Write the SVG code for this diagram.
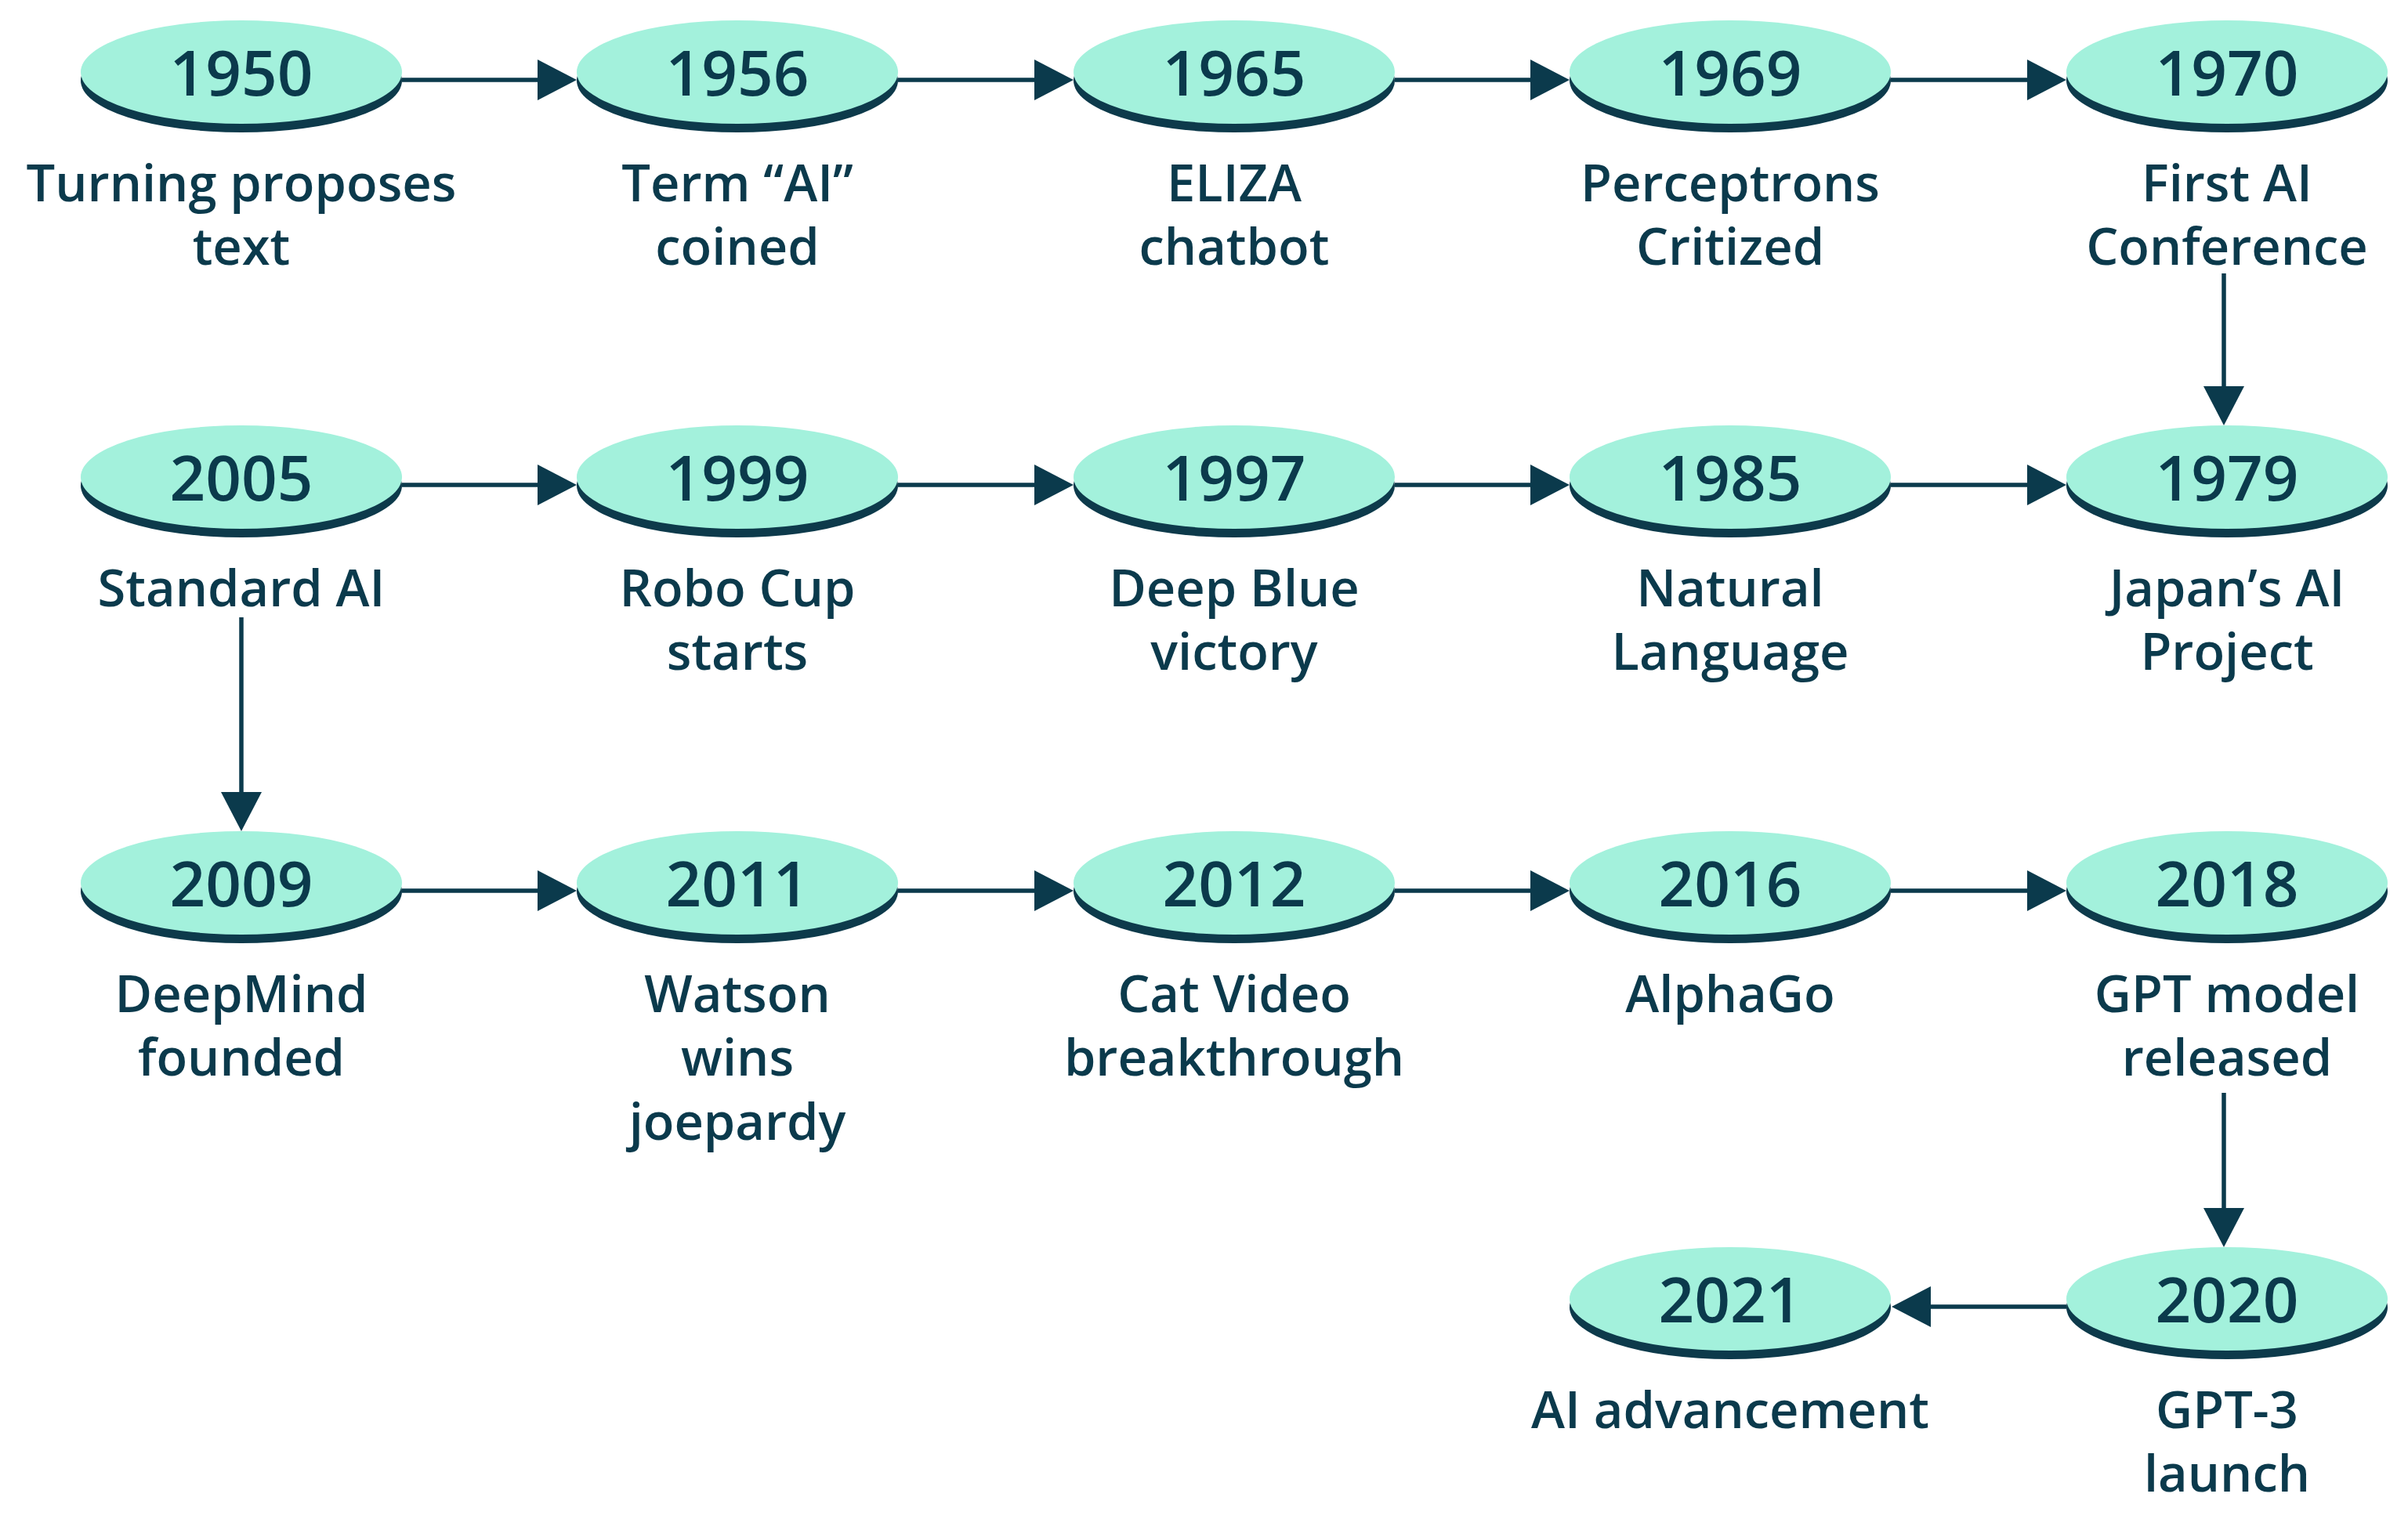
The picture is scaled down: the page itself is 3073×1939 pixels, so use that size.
<svg xmlns="http://www.w3.org/2000/svg" width="3073" height="1939" viewBox="0 0 3073 1939">
<style>
.bg{fill:#ffffff}
.sh{fill:#0d3a4b}
.el{fill:#a3f1dc}
.yr{font-family:"Open Sans","DejaVu Sans",sans-serif;font-size:80px;font-weight:600;fill:#0b3a4c;text-anchor:middle}
.lb{font-family:"Open Sans","DejaVu Sans",sans-serif;font-size:65px;font-weight:600;fill:#0b3a4c;text-anchor:middle}
.cn{stroke:#0b3a4c;stroke-width:5.5;fill:none;marker-end:url(#ah)}
</style>
<defs>
<marker id="ah" viewBox="0 0 50 52" refX="40" refY="26" markerWidth="50" markerHeight="52" markerUnits="userSpaceOnUse" orient="auto">
<path d="M0,0 L50,26 L0,52 z" fill="#0b3a4c"/>
</marker>
</defs>
<rect class="bg" x="0" y="0" width="3073" height="1939"/>
<g id="connectors">
<line class="cn" x1="513" y1="102" x2="726" y2="102"/>
<line class="cn" x1="1146" y1="102" x2="1360" y2="102"/>
<line class="cn" x1="1780" y1="102" x2="1993" y2="102"/>
<line class="cn" x1="2413" y1="102" x2="2627" y2="102"/>
<line class="cn" x1="2838" y1="349" x2="2838" y2="533"/>
<line class="cn" x1="513" y1="619" x2="726" y2="619"/>
<line class="cn" x1="1146" y1="619" x2="1360" y2="619"/>
<line class="cn" x1="1780" y1="619" x2="1993" y2="619"/>
<line class="cn" x1="2413" y1="619" x2="2627" y2="619"/>
<line class="cn" x1="308" y1="788" x2="308" y2="1051"/>
<line class="cn" x1="513" y1="1137" x2="726" y2="1137"/>
<line class="cn" x1="1146" y1="1137" x2="1360" y2="1137"/>
<line class="cn" x1="1780" y1="1137" x2="1993" y2="1137"/>
<line class="cn" x1="2413" y1="1137" x2="2627" y2="1137"/>
<line class="cn" x1="2838" y1="1395" x2="2838" y2="1582"/>
<line class="cn" x1="2637" y1="1668" x2="2424" y2="1668"/>
</g>
<g id="n1950"><ellipse class="sh" cx="308" cy="103" rx="205" ry="66"/><ellipse class="el" cx="308" cy="92" rx="205" ry="66"/><text class="yr" x="308" y="122">1950</text><text class="lb" x="308" y="257">Turning proposes</text><text class="lb" x="308" y="338">text</text></g>
<g id="n1956"><ellipse class="sh" cx="941" cy="103" rx="205" ry="66"/><ellipse class="el" cx="941" cy="92" rx="205" ry="66"/><text class="yr" x="941" y="122">1956</text><text class="lb" x="941" y="257">Term “AI”</text><text class="lb" x="941" y="338">coined</text></g>
<g id="n1965"><ellipse class="sh" cx="1575" cy="103" rx="205" ry="66"/><ellipse class="el" cx="1575" cy="92" rx="205" ry="66"/><text class="yr" x="1575" y="122">1965</text><text class="lb" x="1575" y="257">ELIZA</text><text class="lb" x="1575" y="338">chatbot</text></g>
<g id="n1969"><ellipse class="sh" cx="2208" cy="103" rx="205" ry="66"/><ellipse class="el" cx="2208" cy="92" rx="205" ry="66"/><text class="yr" x="2208" y="122">1969</text><text class="lb" x="2208" y="257">Perceptrons</text><text class="lb" x="2208" y="338">Critized</text></g>
<g id="n1970"><ellipse class="sh" cx="2842" cy="103" rx="205" ry="66"/><ellipse class="el" cx="2842" cy="92" rx="205" ry="66"/><text class="yr" x="2842" y="122">1970</text><text class="lb" x="2842" y="257">First AI</text><text class="lb" x="2842" y="338">Conference</text></g>
<g id="n2005"><ellipse class="sh" cx="308" cy="620" rx="205" ry="66"/><ellipse class="el" cx="308" cy="609" rx="205" ry="66"/><text class="yr" x="308" y="639">2005</text><text class="lb" x="308" y="774">Standard AI</text></g>
<g id="n1999"><ellipse class="sh" cx="941" cy="620" rx="205" ry="66"/><ellipse class="el" cx="941" cy="609" rx="205" ry="66"/><text class="yr" x="941" y="639">1999</text><text class="lb" x="941" y="774">Robo Cup</text><text class="lb" x="941" y="855">starts</text></g>
<g id="n1997"><ellipse class="sh" cx="1575" cy="620" rx="205" ry="66"/><ellipse class="el" cx="1575" cy="609" rx="205" ry="66"/><text class="yr" x="1575" y="639">1997</text><text class="lb" x="1575" y="774">Deep Blue</text><text class="lb" x="1575" y="855">victory</text></g>
<g id="n1985"><ellipse class="sh" cx="2208" cy="620" rx="205" ry="66"/><ellipse class="el" cx="2208" cy="609" rx="205" ry="66"/><text class="yr" x="2208" y="639">1985</text><text class="lb" x="2208" y="774">Natural</text><text class="lb" x="2208" y="855">Language</text></g>
<g id="n1979"><ellipse class="sh" cx="2842" cy="620" rx="205" ry="66"/><ellipse class="el" cx="2842" cy="609" rx="205" ry="66"/><text class="yr" x="2842" y="639">1979</text><text class="lb" x="2842" y="774">Japan’s AI</text><text class="lb" x="2842" y="855">Project</text></g>
<g id="n2009"><ellipse class="sh" cx="308" cy="1138" rx="205" ry="66"/><ellipse class="el" cx="308" cy="1127" rx="205" ry="66"/><text class="yr" x="308" y="1157">2009</text><text class="lb" x="308" y="1292">DeepMind</text><text class="lb" x="308" y="1373">founded</text></g>
<g id="n2011"><ellipse class="sh" cx="941" cy="1138" rx="205" ry="66"/><ellipse class="el" cx="941" cy="1127" rx="205" ry="66"/><text class="yr" x="941" y="1157">2011</text><text class="lb" x="941" y="1292">Watson</text><text class="lb" x="941" y="1373">wins</text><text class="lb" x="941" y="1455">joepardy</text></g>
<g id="n2012"><ellipse class="sh" cx="1575" cy="1138" rx="205" ry="66"/><ellipse class="el" cx="1575" cy="1127" rx="205" ry="66"/><text class="yr" x="1575" y="1157">2012</text><text class="lb" x="1575" y="1292">Cat Video</text><text class="lb" x="1575" y="1373">breakthrough</text></g>
<g id="n2016"><ellipse class="sh" cx="2208" cy="1138" rx="205" ry="66"/><ellipse class="el" cx="2208" cy="1127" rx="205" ry="66"/><text class="yr" x="2208" y="1157">2016</text><text class="lb" x="2208" y="1292">AlphaGo</text></g>
<g id="n2018"><ellipse class="sh" cx="2842" cy="1138" rx="205" ry="66"/><ellipse class="el" cx="2842" cy="1127" rx="205" ry="66"/><text class="yr" x="2842" y="1157">2018</text><text class="lb" x="2842" y="1292">GPT model</text><text class="lb" x="2842" y="1373">released</text></g>
<g id="n2020"><ellipse class="sh" cx="2842" cy="1669" rx="205" ry="66"/><ellipse class="el" cx="2842" cy="1658" rx="205" ry="66"/><text class="yr" x="2842" y="1688">2020</text><text class="lb" x="2842" y="1823">GPT-3</text><text class="lb" x="2842" y="1904">launch</text></g>
<g id="n2021"><ellipse class="sh" cx="2208" cy="1669" rx="205" ry="66"/><ellipse class="el" cx="2208" cy="1658" rx="205" ry="66"/><text class="yr" x="2208" y="1688">2021</text><text class="lb" x="2208" y="1823">AI advancement</text></g>
</svg>
